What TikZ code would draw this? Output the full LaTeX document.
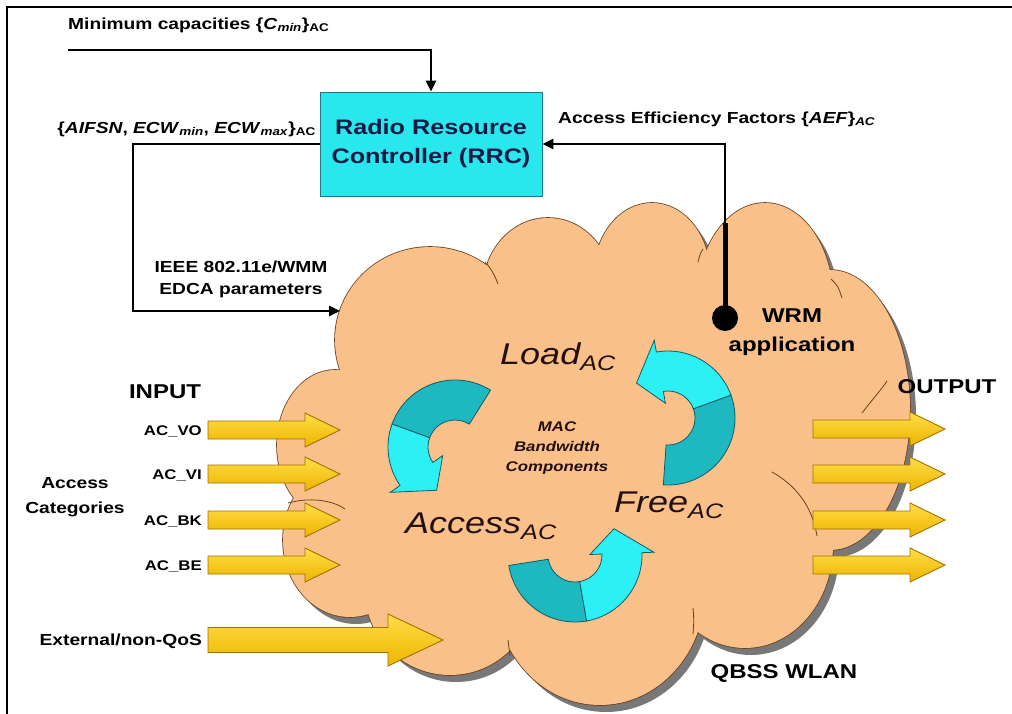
\documentclass[tikz,border=0pt]{standalone}
\usepackage{fontspec}
\setmainfont[FakeStretch=1.2]{Liberation Sans}
\usetikzlibrary{arrows.meta}
\definecolor{cloudfill}{RGB}{249,192,138}
\definecolor{cloudline}{RGB}{105,65,30}
\definecolor{shadowc}{RGB}{120,120,120}
\definecolor{boxcyan}{RGB}{40,232,238}
\definecolor{boxline}{RGB}{30,120,130}
\definecolor{arrcyan}{RGB}{45,240,245}
\definecolor{arrteal}{RGB}{30,185,192}
\definecolor{arrline}{RGB}{20,90,100}
\definecolor{ytop}{RGB}{255,222,70}
\definecolor{ybot}{RGB}{238,180,0}
\definecolor{yline}{RGB}{160,115,0}
\definecolor{rrctext}{RGB}{25,25,70}
\definecolor{darktext}{RGB}{35,15,15}
\tikzset{
  conn/.style={line width=2.6pt, -{Triangle[length=11pt,width=10pt]}},
  lbl/.style={inner sep=0pt, font=\bfseries\fontsize{16}{19}\selectfont},
  biglbl/.style={inner sep=0pt, font=\bfseries\fontsize{20}{24}\selectfont},
  aclbl/.style={inner sep=0pt, anchor=east, font=\bfseries\fontsize{14}{16}\selectfont},
  comp/.style={inner sep=0pt, anchor=base west, text=darktext, font=\itshape\fontsize{30}{34}\selectfont},
  inline/.style={cloudline, line width=0.8pt}
}
\newcommand\cyarrow[5]{%
  \begin{scope}[shift={(#1,#2)}]
    \filldraw[fill=arrteal, draw=arrline, line width=0.8pt]
      (#3:67) arc[start angle=#3, end angle=#4, radius=67] -- (#4:27)
      arc[start angle=#4, end angle=#3, radius=27] -- cycle;
    \filldraw[fill=arrcyan, draw=arrline, line width=0.8pt]
      (#4:67) arc[start angle=#4, end angle=#5, radius=67] -- (#5:79)
      -- ({#5-32}:47) -- (#5:15) -- (#5:27)
      arc[start angle=#5, end angle=#4, radius=27] -- cycle;
  \end{scope}}
\newcommand\yarrow[6]{%
  \path[top color=ytop, bottom color=ybot, draw=yline, line width=0.9pt]
    (#1,{#4-#5}) -- (#2,{#4-#5}) -- (#2,{#4-#6}) -- (#3,#4)
    -- (#2,{#4+#6}) -- (#2,{#4+#5}) -- (#1,{#4+#5}) -- cycle;}
\begin{document}
\begin{tikzpicture}[x=1pt,y=-1pt]
\useasboundingbox (0,0) rectangle (1012,714);
% frame
\draw[line width=2.5pt] (7,714) -- (7,7) -- (1012,7);
% cloud
\def\lobes{430/340/95/93, 548/290/65/72, 652/275/58/72, 765/300/68/97,
  830/410/80/140, 745/545/88/103, 600/590/105/115, 450/590/85/85,
  335/445/58/75, 350/540/67/77, 590/445/250/190}
\foreach \x/\y/\a/\b in \lobes
  \fill[shadowc] ({\x+6},{\y+7}) ellipse[x radius=\a, y radius=\b];
\foreach \x/\y/\a/\b in \lobes
  \draw[cloudline, line width=1.6pt] (\x,\y) ellipse[x radius=\a, y radius=\b];
\foreach \x/\y/\a/\b in \lobes
  \fill[cloudfill] (\x,\y) ellipse[x radius=\a, y radius=\b];
% inner cloud arcs
\draw[inline] (288,503) .. controls (310,497) and (332,500) .. (345,509);
\draw[inline] (485,262) .. controls (491,268) and (495,276) .. (498,284);
\draw[inline] (703,249) .. controls (700,254) .. (698,262);
\draw[inline] (831,279) .. controls (838,286) .. (842,298);
\draw[inline] (862,413) .. controls (872,400) and (881,390) .. (887,381);
\draw[inline] (772,472) .. controls (795,485) and (812,505) .. (817,536);
\draw[inline] (508,640) .. controls (509,648) .. (510,656);
\draw[inline] (693,608) .. controls (694,620) .. (693,634);
% cyan curved arrows
\cyarrow{455}{447}{-58}{-160}{-215}
\cyarrow{668}{418}{94}{-20}{-100}
\cyarrow{575}{555}{171}{80}{-2}
% input arrows
\yarrow{208}{305}{340}{430}{9}{17}
\yarrow{208}{305}{340}{474}{9}{17}
\yarrow{208}{305}{340}{520}{9}{17}
\yarrow{208}{305}{340}{565}{9}{17}
\yarrow{208}{388}{443}{640}{12.5}{26}
% output arrows
\yarrow{813}{910}{945}{429}{9}{17}
\yarrow{813}{910}{945}{474}{9}{17}
\yarrow{813}{910}{945}{520}{9}{17}
\yarrow{813}{910}{945}{565}{9}{17}
% RRC box
\node[draw=boxline, line width=0.8pt, fill=boxcyan, minimum width=222pt, minimum height=104pt,
  inner sep=0pt, align=center, text=rrctext,
  font=\bfseries\fontsize{21}{29}\selectfont] (rrc) at (431,144) {Radio Resource\\Controller (RRC)};
% WRM dot
\node[circle, fill=black, minimum size=26pt, inner sep=0pt] (wrm) at (725,318) {};
\coordinate (wrmtop) at (725,223);
% connectors
\coordinate (mincap) at (68,50);
\coordinate (edcacorner) at (133,144);
\coordinate (edcain) at (340,311);
\draw[conn] (mincap) -| (rrc.north);
\draw[conn] (rrc.west) -- (edcacorner) |- (edcain);
\draw[conn] (wrm.center) |- (rrc.east);
\draw[line width=5pt] (wrm.center) -- (wrmtop);
% texts
\node[lbl, anchor=west] (tmin) at (68,25)
  {Minimum capacities \{\textit{C}\textsubscript{\textit{min}}\}\textsubscript{AC}};
\node[lbl, anchor=east] (taifs) at (316,129)
  {\{\textit{AIFSN}, \textit{ECW}\textsubscript{\textit{min}}, \textit{ECW}\textsubscript{\textit{max}}\}\textsubscript{AC}};
\node[lbl, anchor=west] (taef) at (558,119)
  {Access Efficiency Factors \{\textit{AEF}\}\textsubscript{\textit{AC}}};
\node[lbl, align=center, font=\bfseries\fontsize{16}{22}\selectfont] (tedca) at (241,279)
  {IEEE 802.11e/WMM\\EDCA parameters};
\node[biglbl, align=center, font=\bfseries\fontsize{20}{29}\selectfont] (twrm) at (792,332)
  {WRM\\application};
\node[biglbl] (tinput) at (165,392) {INPUT};
\node[biglbl] (toutput) at (947,387) {OUTPUT};
\node[biglbl] (tqbss) at (784,673) {QBSS WLAN};
\node[lbl, align=center, font=\bfseries\fontsize{16}{25}\selectfont] (tcat) at (75,497) {Access\\Categories};
\node[aclbl] (tvo) at (202,431) {AC\_VO};
\node[aclbl] (tvi) at (202,475) {AC\_VI};
\node[aclbl] (tbk) at (202,521) {AC\_BK};
\node[aclbl] (tbe) at (202,566) {AC\_BE};
\node[lbl, anchor=east] (text) at (202,641) {External/non-QoS};
\node[comp] (tload) at (500,364) {Load\textsubscript{AC}};
\node[comp] (taccess) at (405,533) {Access\textsubscript{AC}};
\node[comp] (tfree) at (614,512) {Free\textsubscript{AC}};
\node[inner sep=0pt, align=center, text=darktext, font=\bfseries\itshape\fontsize{14}{20}\selectfont] (tmac) at (557,448)
  {MAC\\Bandwidth\\Components};
\end{tikzpicture}
\end{document}
